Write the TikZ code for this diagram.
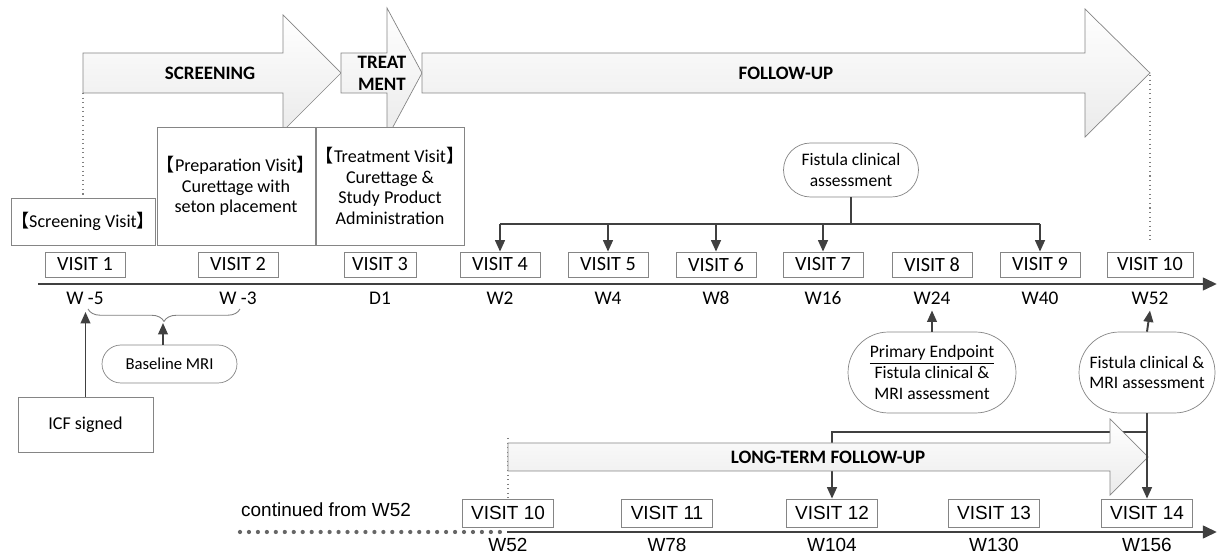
\documentclass[tikz,border=0pt]{standalone}
\usepackage{fontspec}
\setmainfont{Carlito}
\newfontfamily\arialf{Liberation Sans}
\newfontfamily\cjkf{Noto Sans CJK SC}
\usetikzlibrary{arrows.meta,positioning,calc,shapes.misc,decorations.pathreplacing}
\definecolor{linegray}{HTML}{404040}
\definecolor{edgegray}{HTML}{858585}
\newcommand{\opbr}{{\cjkf 【}}
\newcommand{\clbr}{{\cjkf 】}}

\begin{document}
\begin{tikzpicture}[x=0.02cm,y=-0.02cm,>={Triangle[width=5.5pt,length=6.5pt]},
  vis/.style={draw=edgegray,fill=white,minimum width=1.6cm,minimum height=0.5cm,inner sep=0pt,font=\fontsize{11.5}{13}\selectfont},
  visb/.style={vis,minimum width=1.82cm,minimum height=0.56cm,font=\arialf\fontsize{10.8}{12}\selectfont},
  wk/.style={font=\fontsize{11}{13}\selectfont},
  wkb/.style={font=\arialf\fontsize{10.8}{12}\selectfont},
  info/.style={draw=edgegray,fill=white,align=center,inner sep=0pt,font=\fontsize{10.3}{11.8}\selectfont},
  oval/.style={draw=edgegray,fill=white,rounded rectangle,align=center,inner sep=0pt,font=\fontsize{10}{11.8}\selectfont},
  phase/.style={draw=edgegray,top color=white,bottom color=gray!16},
  phasetxt/.style={font=\bfseries\fontsize{10.8}{12.6}\selectfont,align=center},
  conn/.style={draw=linegray,line width=1.1pt},
  axisl/.style={draw=linegray,line width=1.7pt,-{Triangle[width=7pt,length=8pt]}},
  guide/.style={draw=gray,dotted,line width=0.6pt}]
  \useasboundingbox (0,0) rectangle (1217,553);

  % phase arrows
  \draw[phase] (83,53) -- (283,53) -- (283,15) -- (341,73) -- (283,131) -- (283,93) -- (83,93) -- cycle;
  \draw[phase] (341,53) -- (387,53) -- (387,8) -- (422,73) -- (387,138) -- (387,93) -- (341,93) -- cycle;
  \draw[phase] (422,53) -- (1085,53) -- (1085,9) -- (1150,73) -- (1085,137) -- (1085,93) -- (422,93) -- cycle;
  \node[phasetxt] (scr) at (210,73) {SCREENING};
  \node[phasetxt] (trt) at (382,73) {TREAT\\MENT};
  \node[phasetxt] (fu) at (786,73) {FOLLOW-UP};
  \coordinate (scrend) at (83,93);
  \coordinate (futip) at (1150,75);

  % visit descriptions
  \node[info,minimum width=2.8cm,minimum height=0.94cm] (scrv) at (83,221.5) {\opbr Screening Visit\clbr};
  \node[info,minimum width=3.08cm,minimum height=2.36cm] (prep) at (236,186) {\opbr Preparation Visit\clbr\\Curettage with\\seton placement};
  \node[info,minimum width=2.8cm,minimum height=2.36cm] (trtv) at (390,186) {\opbr Treatment Visit\clbr\\Curettage \&\\Study Product\\Administration};
  \draw[guide] (scrend) -- (scrv.north);

  % main time line
  \coordinate (ax0) at (38,284);
  \coordinate (ax1) at (1217,284);
  \draw[axisl] (ax0) -- (ax1);
  \foreach \i/\x/\w/\mw in {1/85/W -5/1.6cm,2/238/W -3/1.6cm,3/380/D1/1.44cm,4/500/W2/1.6cm,5/608/W4/1.6cm,
      6/716/W8/1.6cm,7/823/W16/1.6cm,8/932/W24/1.6cm,9/1040/W40/1.6cm,10/1150/W52/1.72cm}{
    \node[vis,minimum width=\mw] (v\i) at (\x,264.5) {VISIT \i};
    \node[wk] (w\i) at (\x,298) {\w};
  }
  \draw[guide] (futip) -- (1150,240);

  % fistula assessment at W2..W40
  \node[oval,minimum width=2.7cm,minimum height=1.08cm] (fca) at (851,170) {Fistula clinical\\assessment};
  \coordinate (fork) at (851,224);
  \draw[conn] (fca.south) -- (fork);
  \draw[conn] (v4.north |- fork) -- (v9.north |- fork);
  \foreach \i in {4,5,6,7,9}
    \draw[conn,->] (v\i.north |- fork) -- (v\i.north);

  % screening period
  \node[info,minimum width=2.7cm,minimum height=1.1cm] (icf) at (85.5,424.5) {ICF signed};
  \node[oval,minimum width=2.7cm,minimum height=0.76cm,font=\fontsize{9.5}{11}\selectfont] (mri) at (169.5,364) {Baseline MRI};
  \draw[gray,line width=0.5pt,decorate,decoration={brace,mirror,amplitude=0.25cm}] (88,309) -- (240,309);
  \coordinate (cusp) at (163,323);
  \draw[conn,->] (mri.north -| cusp) -- (cusp);
  \draw[conn,->] (icf.north) -- (icf.north |- 0,312);

  % endpoint assessments
  \node[oval,minimum width=3.36cm,minimum height=1.62cm] (pe) at (932,372.5) {\underline{Primary Endpoint}\\Fistula clinical \&\\MRI assessment};
  \node[oval,minimum width=2.72cm,minimum height=1.62cm] (fcm) at (1147,372.5) {Fistula clinical \&\\MRI assessment};
  \draw[conn,->] (pe.north) -- (w8.south);
  \draw[conn,->] (fcm.north) -- (w10.south);

  % long-term follow-up
  \foreach \i/\x/\w in {10/508/W52,11/667/W78,12/832/W104,13/994/W130,14/1147/W156}{
    \node[visb] (b\i) at (\x,513) {VISIT \i};
    \node[wkb] (bw\i) at (\x,545) {\w};
  }
  \coordinate (branch) at (1147,432);
  \draw[guide] (508,438) -- (b10.north);
  \draw[conn,->] (branch) -| (b12.north);
  \draw[phase] (508,443) -- (1110,443) -- (1110,419) -- (1148,457) -- (1110,495) -- (1110,471) -- (508,471) -- cycle;
  \node[phasetxt] (ltfu) at (828,457) {LONG-TERM FOLLOW-UP};
  \draw[conn,->] (fcm.south) -- (b14.north);

  \node[wkb,anchor=west] (cont) at (235,510) {continued from W52};
  \coordinate (dot0) at (240,532);
  \coordinate (bx0) at (507,532);
  \coordinate (bx1) at (1217,532);
  \draw[linegray!80,line width=2.4pt,line cap=round,dash pattern=on 0pt off 5.1pt] (dot0) -- (bx0);
  \draw[axisl] (bx0) -- (bx1);
\end{tikzpicture}
\end{document}
